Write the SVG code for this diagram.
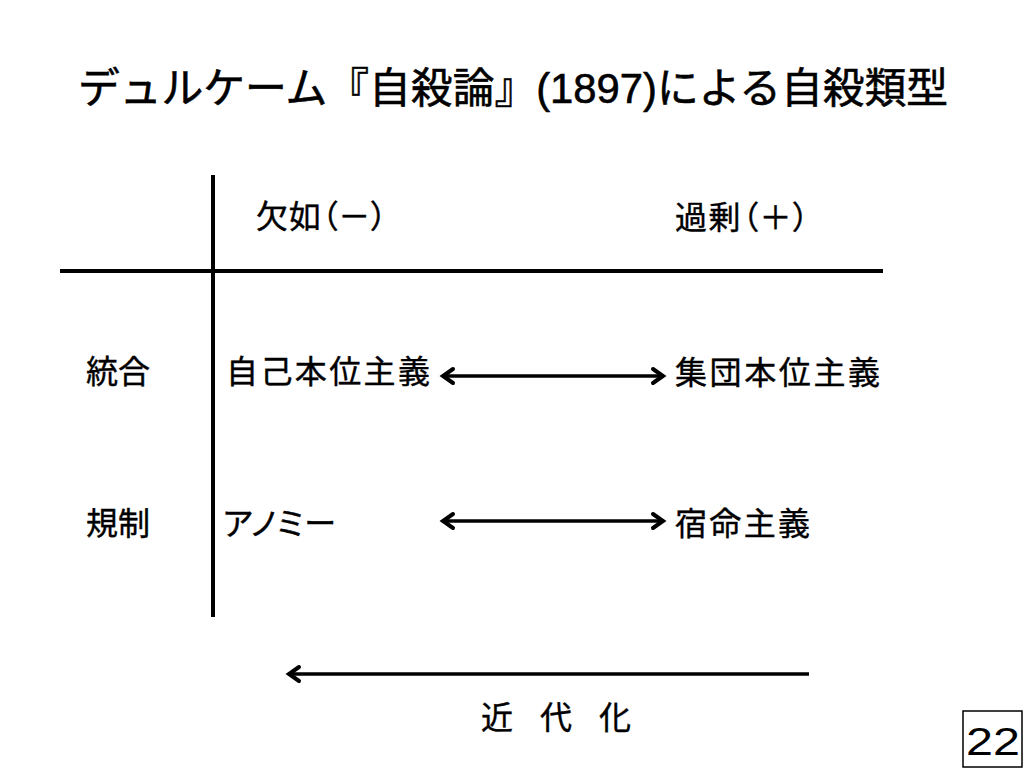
<svg xmlns="http://www.w3.org/2000/svg" width="1024" height="768" viewBox="0 0 1024 768">
<style>
text { font-family: "Liberation Sans", "Noto Sans CJK JP", sans-serif; fill: #000; }
.title { font-size: 42px; stroke: #000; stroke-width: 0.6; }
.body { font-size: 32px; font-feature-settings: "palt"; stroke: #000; stroke-width: 0.4; }
.grid { stroke: #000; stroke-width: 4; fill: none; }
.conn { stroke: #000; stroke-width: 3.5; fill: none; }
.page { font-size: 38px; }
</style>
<defs>
<marker id="head" viewBox="-16 -10 20 20" markerWidth="20" markerHeight="20" refX="0" refY="0" orient="auto-start-reverse" markerUnits="userSpaceOnUse">
<path d="M-11,-7 L-1,0 L-11,7" fill="none" stroke="#000" stroke-width="4" stroke-linecap="round" stroke-linejoin="miter"/>
</marker>
</defs>
<rect width="1024" height="768" fill="#fff"/>
<g id="title"><text class="title" x="78" y="103" textLength="870" lengthAdjust="spacingAndGlyphs">デュルケーム『自殺論』(1897)による自殺類型</text></g>
<g id="table-grid">
<line class="grid" x1="213" y1="175" x2="213" y2="617"/>
<line class="grid" x1="60" y1="271" x2="883" y2="271"/>
</g>
<g id="col-lack"><text class="body" x="256" y="228" textLength="131" lengthAdjust="spacing">欠如（－）</text></g>
<g id="col-excess"><text class="body" x="675" y="229" textLength="134" lengthAdjust="spacing">過剰（＋）</text></g>
<g id="row-integration"><text class="body" x="86" y="383">統合</text></g>
<g id="row-regulation"><text class="body" x="86" y="535">規制</text></g>
<g id="egoistic"><text class="body" x="226" y="383" textLength="204" lengthAdjust="spacing">自己本位主義</text></g>
<g id="altruistic"><text class="body" x="675" y="384" textLength="205" lengthAdjust="spacing">集団本位主義</text></g>
<g id="anomic"><text class="body" x="223" y="535" textLength="113" lengthAdjust="spacing">アノミー</text></g>
<g id="fatalistic"><text class="body" x="675" y="535" textLength="135" lengthAdjust="spacing">宿命主義</text></g>
<g id="modernization"><text class="body" x="481" y="729" textLength="150" lengthAdjust="spacing">近　代　化</text></g>
<g id="connectors">
<line class="conn" x1="442" y1="376" x2="664" y2="376" marker-start="url(#head)" marker-end="url(#head)"/>
<line class="conn" x1="442" y1="521" x2="664" y2="521" marker-start="url(#head)" marker-end="url(#head)"/>
<line class="conn" x1="288" y1="674" x2="809" y2="674" marker-start="url(#head)"/>
</g>
<g id="page-number">
<rect x="963" y="711" width="59" height="56" fill="none" stroke="#000" stroke-width="1.5"/>
<text class="page" x="966" y="755" textLength="54" lengthAdjust="spacingAndGlyphs">22</text>
</g>
</svg>
